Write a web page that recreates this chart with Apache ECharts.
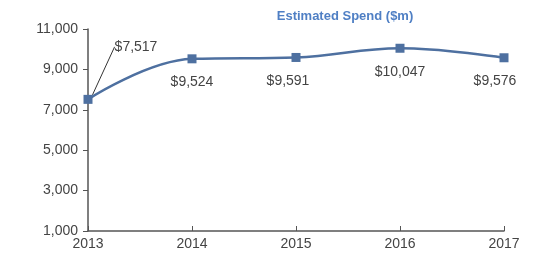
<!DOCTYPE html>
<html>
<head>
<meta charset="utf-8">
<script src="https://cdn.jsdelivr.net/npm/echarts@6/dist/echarts.min.js"></script>
<style>
  html, body { margin: 0; padding: 0; background: #fff; }
  #chart { width: 537px; height: 265px; }
</style>
</head>
<body>
<div id="chart"></div>
<script>
var years = ['2013', '2014', '2015', '2016', '2017'];
var spend = [7517, 9524, 9591, 10047, 9576];
var seriesName = 'Estimated Spend ($m)';

var chart = echarts.init(document.getElementById('chart'));

// only the first point gets a leader line to its label
var points = spend.map(function (v, i) {
  return i === 0 ? { value: v, labelLine: { show: true } } : { value: v };
});

var option = {
  animation: false,
  title: {
    text: seriesName,
    left: 340,
    top: 5,
    textAlign: 'center',
    textStyle: { color: '#4f7fc4', fontSize: 13, fontWeight: 'bold', fontFamily: 'Liberation Sans, Arial, sans-serif' }
  },
  grid: { left: 88, right: 33, top: 29, bottom: 34 },
  xAxis: {
    type: 'category',
    data: years,
    boundaryGap: false,
    axisLine: { lineStyle: { color: '#555', width: 1.5 } },
    axisTick: { inside: true, length: 5, lineStyle: { color: '#555' } },
    axisLabel: { color: '#444', fontSize: 14, margin: 6, fontFamily: 'Liberation Sans, Arial, sans-serif' }
  },
  yAxis: {
    type: 'value',
    min: 1000,
    max: 11000,
    interval: 2000,
    splitLine: { show: false },
    axisLine: { show: true, lineStyle: { color: '#555', width: 1.5 } },
    axisTick: { show: true, length: 5, lineStyle: { color: '#555' } },
    axisLabel: {
      color: '#444', fontSize: 14, margin: 10, fontFamily: 'Liberation Sans, Arial, sans-serif',
      formatter: function (v) { return v.toLocaleString('en-US'); }
    }
  },
  series: [{
    name: seriesName,
    type: 'line',
    data: points,
    smooth: 0.4,
    symbol: 'rect',
    symbolSize: 9,
    itemStyle: { color: '#4e70a0' },
    lineStyle: { color: '#4e70a0', width: 2.5 },
    label: {
      show: true,
      position: 'bottom',
      distance: 12,
      color: '#444',
      fontSize: 14,
      fontFamily: 'Liberation Sans, Arial, sans-serif',
      formatter: function (p) { return '$' + p.value.toLocaleString('en-US'); }
    },
    labelLine: { show: false, lineStyle: { color: '#333', width: 1 } },
    labelLayout: function (p) {
      if (p.dataIndex === 0) return { dx: 48, dy: -76 };
      if (p.dataIndex === 2) return { dx: -8 };
      if (p.dataIndex === 4) return { dx: -9 };
      return {};
    }
  }]
};

chart.setOption(option);
</script>
</body>
</html>
